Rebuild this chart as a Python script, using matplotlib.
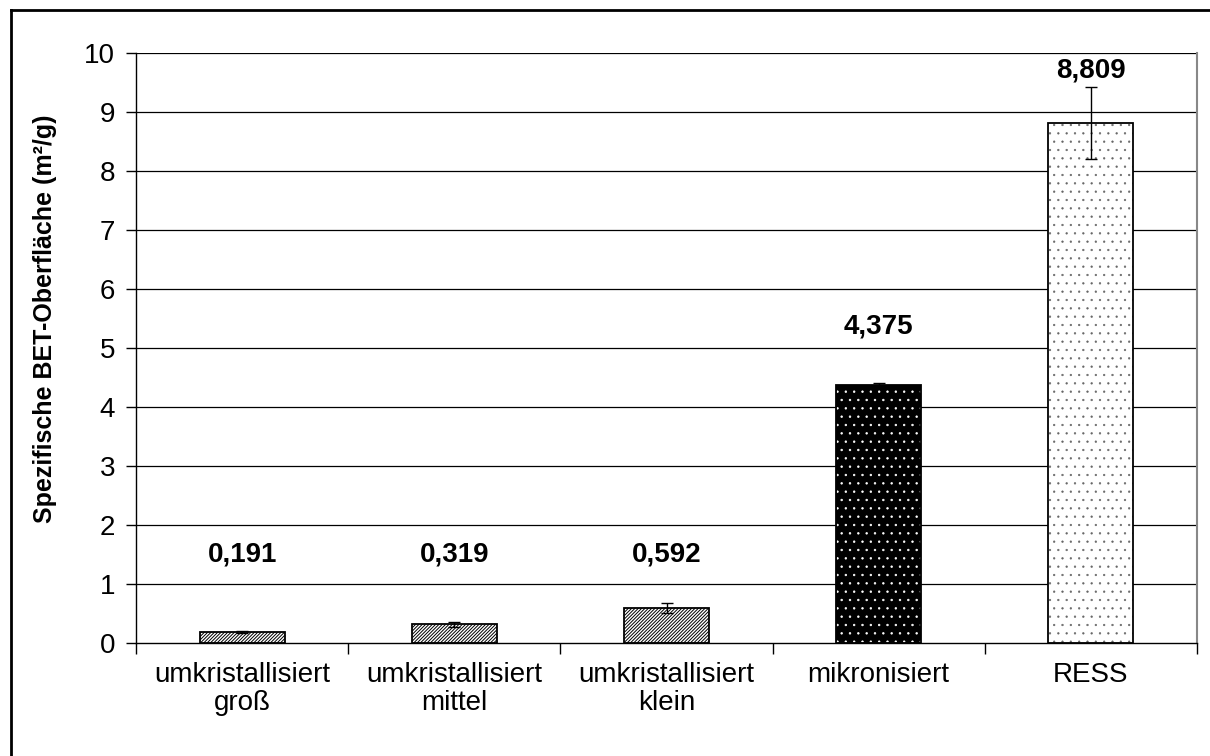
import numpy as np
import matplotlib.pyplot as plt
from matplotlib.lines import Line2D

plt.rcParams['font.family'] = ['Liberation Sans', 'DejaVu Sans']

# Daten
kategorien = ["umkristallisiert\ngroß", "umkristallisiert\nmittel",
              "umkristallisiert\nklein", "mikronisiert", "RESS"]
werte = [0.191, 0.319, 0.592, 4.375, 8.809]
fehler = [0.02, 0.04, 0.09, 0.035, 0.61]
beschriftung = ["0,191", "0,319", "0,592", "4,375", "8,809"]
label_hoehe = [1.5, 1.5, 1.5, 5.37, 9.7]

# Stil je Balken
farben = ["white", "white", "white", "black", "white"]
muster = ["//////////", "//////////", "//////////", "..", ".."]
musterfarbe = ["black", "black", "black", "white", "#666666"]
musterbreite = [0.7, 0.7, 0.7, 0.5, 0.4]

fig = plt.figure(figsize=(12.1, 7.56), dpi=100)
ax = fig.add_axes([136 / 1210, 113 / 756, 1061 / 1210, 590 / 756])

x = np.arange(len(werte))
breite = 0.4

# Gitterlinien
ax.set_ylim(0, 10)
ax.set_yticks(range(0, 11))
for y in range(1, 11):
    ax.axhline(y, color='black', lw=0.9, zorder=1)

# Balken: erst Muster, dann Umriss
for i in range(len(werte)):
    with plt.rc_context({'hatch.linewidth': musterbreite[i]}):
        ax.bar(x[i], werte[i], width=breite, color=farben[i], hatch=muster[i],
               edgecolor=musterfarbe[i], linewidth=0, zorder=2)
    ax.bar(x[i], werte[i], width=breite, fill=False, edgecolor='black',
           linewidth=1.3, zorder=3)

# Fehlerbalken
ax.errorbar(x, werte, yerr=fehler, fmt='none', ecolor='black', elinewidth=1.0,
            capsize=4, capthick=1.0, zorder=4)

# Wertebeschriftung
for i in range(len(werte)):
    ax.text(x[i], label_hoehe[i], beschriftung[i], ha='center', va='center',
            fontsize=20, fontweight='bold')

ax.set_xlim(-0.5, len(werte) - 0.5)
ax.set_xticks(x)
ax.set_xticklabels(kategorien, fontsize=20, linespacing=1.1)
ax.tick_params(axis='x', length=0, pad=14)
ax.set_xticks(np.arange(-0.5, len(werte)), minor=True)
ax.tick_params(axis='x', which='minor', length=8, width=1.0, direction='out')
ax.tick_params(axis='y', labelsize=20, length=7, width=1.0, direction='out', pad=8)

ax.set_ylabel("Spezifische BET-Oberfläche (m²/g)", fontsize=18, fontweight='bold')
ax.yaxis.set_label_coords(-0.0745, 0.55)

ax.spines['top'].set_visible(False)
ax.spines['right'].set_color('#888888')
ax.spines['right'].set_linewidth(1.5)
ax.spines['left'].set_linewidth(1.0)
ax.spines['bottom'].set_linewidth(1.0)

# Rahmen der Abbildung (oben und links sichtbar)
fig.add_artist(Line2D([11 / 1210, 1.0], [1 - 10 / 756, 1 - 10 / 756],
                      transform=fig.transFigure, color='black', lw=2))
fig.add_artist(Line2D([11 / 1210, 11 / 1210], [0.0, 1 - 10 / 756],
                      transform=fig.transFigure, color='black', lw=2))

fig.savefig("out.png", dpi=100, facecolor='white')
